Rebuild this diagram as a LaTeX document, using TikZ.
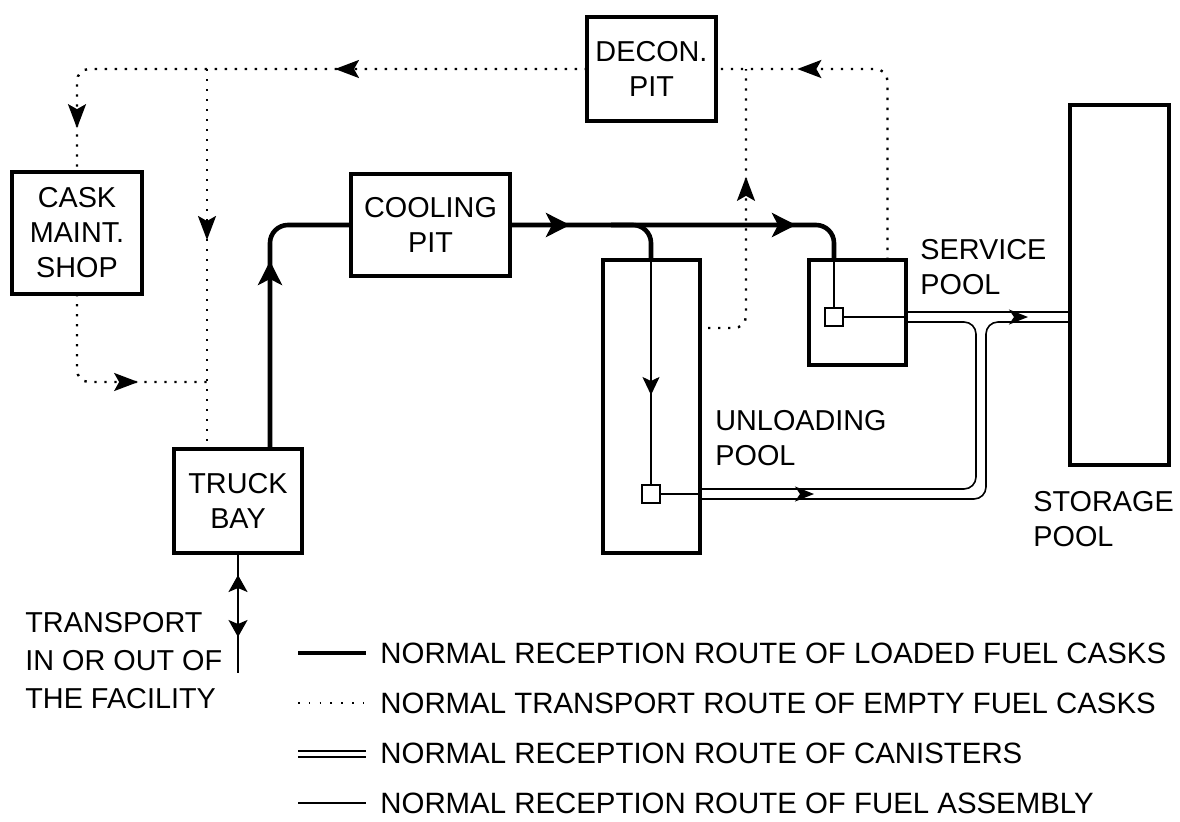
\documentclass[tikz,border=0pt]{standalone}
\usepackage{fontspec}
\setmainfont{Liberation Sans}
\usetikzlibrary{arrows.meta,calc,positioning,decorations.markings}

\begin{document}
\begin{tikzpicture}[x=0.5pt,y=-0.5pt, every node/.style={font=\fontsize{14.4}{17.5}\selectfont}, box/.style={draw,line width=2.3pt,align=center,inner sep=0pt,outer sep=0pt}, tank/.style={box,minimum width=48.5pt}, sq/.style={draw,fill=white,line width=1pt,minimum size=9pt,inner sep=0pt,outer sep=0pt}, tag/.style={inner sep=0pt,align=left,anchor=west}, legtext/.style={inner sep=0pt,anchor=west,font=\fontsize{14.7}{17}\selectfont}, loaded/.style={line width=2.3pt,rounded corners=9pt,>={Stealth[length=12pt,width=12pt,inset=3pt]}}, emptied/.style={line width=1.2pt,dash pattern=on 1.2pt off 3.8pt,rounded corners=6pt,>={Stealth[length=12pt,width=9pt,inset=2.5pt]}}, canister/.style={line width=0.8pt,rounded corners=6pt,>={Stealth[length=9.5pt,width=7.5pt,inset=2.5pt]}}, assembly/.style={line width=1pt,>={Stealth[length=9pt,width=8.5pt,inset=2pt]}}, tipat/.style={postaction={decorate,decoration={markings,mark=at position #1 with {\arrow{>}}}}}, tipback/.style={postaction={decorate,decoration={markings,mark=at position #1 with {\arrowreversed{>}}}}}]
\useasboundingbox (0,0) rectangle (1180,821);
% buildings and pools
\node[box,minimum width=65pt,minimum height=61pt] (cask) at (77,233) {CASK\\MAINT.\\SHOP};
\node[box,minimum width=64.5pt,minimum height=52pt] (decon) at (651.5,69) {DECON.\\PIT};
\node[box,minimum width=79.5pt,minimum height=51pt] (cooling) at (430.5,225) {COOLING\\PIT};
\node[box,minimum width=64pt,minimum height=52pt] (truck) at (238,501) {TRUCK\\BAY};
\node[tank,minimum height=146.5pt] (unload) at (651.5,406.5) {};
\node[tank,minimum height=52.5pt] (service) at (857.5,312.5) {};
\node[box,minimum width=49.5pt,minimum height=180pt] (storage) at (1119.5,285) {};
\node[sq] (sqU) at (651,494) {};
\node[sq] (sqS) at (834,317) {};
\node[tag] (lblU) at (715,438) {UNLOADING\\POOL};
\node[tag] (lblS) at (920,267.5) {SERVICE\\POOL};
\node[tag] (lblT) at (1033,519.5) {STORAGE\\POOL};
\node[tag,font=\fontsize{14.4}{19}\selectfont] (transport) at (25,661) {TRANSPORT\\IN OR OUT OF\\THE FACILITY};
\coordinate (drop) at ($(truck.north)+(-31,0)$);
\coordinate (merge) at ($(drop)+(0,-67)$);
\coordinate (riser) at ($(decon.east)+(30,0)$);
\coordinate (seep) at ($(unload.north east)+(8,68)$);
\coordinate (tee) at (981,0);
\coordinate (outlet) at ($(truck.south)+(0,120)$);
% loaded casks
\draw[loaded,tipat=94pt] ($(truck.north)+(32,0)$) |- (cooling.west);
\draw[loaded,tipat=30pt,tipat=143pt] (cooling.east) -| (sqS |- service.north);
\draw[loaded] ($(sqU |- cooling.east)+(-40,0)$) -| (sqU |- unload.north);
% fuel assemblies
\draw[assembly,tipat=67.5pt] (sqU |- unload.north) -- (sqU.north);
\draw[assembly] (sqS |- service.north) -- (sqS.north);
\draw[assembly] (sqU.east) -- (sqU -| unload.east);
\draw[assembly] (sqS.east) -- (sqS -| service.east);
% canisters
\draw[canister] ($(sqS -| service.east)+(0,-5)$) -- ($(sqS -| storage.west)+(0,-5)$);
\draw[canister] ($(sqS -| service.east)+(0,5)$) -| ($(tee |- sqU)+(-5,-5)$) -- ($(sqU -| unload.east)+(0,-5)$);
\draw[canister] ($(sqU -| unload.east)+(0,5)$) -| ($(tee |- sqS)+(5,5)$) -- ($(sqS -| storage.west)+(0,5)$);
\path[canister,tipat=61pt] (sqS -| service.east) -- (sqS -| storage.west);
\path[canister,tipat=57pt] (sqU -| unload.east) -- (tee |- sqU);
% empty casks
\draw[emptied,tipat=126pt,tipat=282pt] (decon.west) -| (cask.north);
\draw[emptied,tipat=85.5pt] (drop |- decon.west) -- (drop);
\draw[emptied,tipat=72pt] (cask.south) |- (merge);
\draw[emptied,tipat=92pt] (seep) -| (riser);
\draw[emptied,tipat=138pt] ($(service.north)+(30,0)$) |- (decon.east);
% in and out
\draw[assembly,>={Stealth[length=8.5pt,width=9.5pt,inset=2pt]},tipback=11pt,tipat=42pt] (truck.south) -- (outlet);
% legend
\node[legtext] (lgA) at (380,653) {NORMAL RECEPTION ROUTE OF LOADED FUEL CASKS};
\node[legtext,below=25pt of lgA.west,anchor=west] (lgB) {NORMAL TRANSPORT ROUTE OF EMPTY FUEL CASKS};
\node[legtext,below=25pt of lgB.west,anchor=west] (lgC) {NORMAL RECEPTION ROUTE OF CANISTERS};
\node[legtext,below=25pt of lgC.west,anchor=west] (lgD) {NORMAL RECEPTION ROUTE OF FUEL ASSEMBLY};
\draw[loaded] ($(lgA.west)+(-82,0)$) -- ($(lgA.west)+(-14,0)$);
\draw[emptied,line width=0.8pt,dash pattern=on 0.8pt off 4.6pt] ($(lgB.west)+(-82,0)$) -- ($(lgB.west)+(-14,0)$);
\draw[canister,line width=1pt] ($(lgC.west)+(-82,-2)$) -- ($(lgC.west)+(-14,-2)$);
\draw[canister,line width=1pt] ($(lgC.west)+(-82,4)$) -- ($(lgC.west)+(-14,4)$);
\draw[assembly] ($(lgD.west)+(-82,0)$) -- ($(lgD.west)+(-14,0)$);
\end{tikzpicture}
\end{document}
